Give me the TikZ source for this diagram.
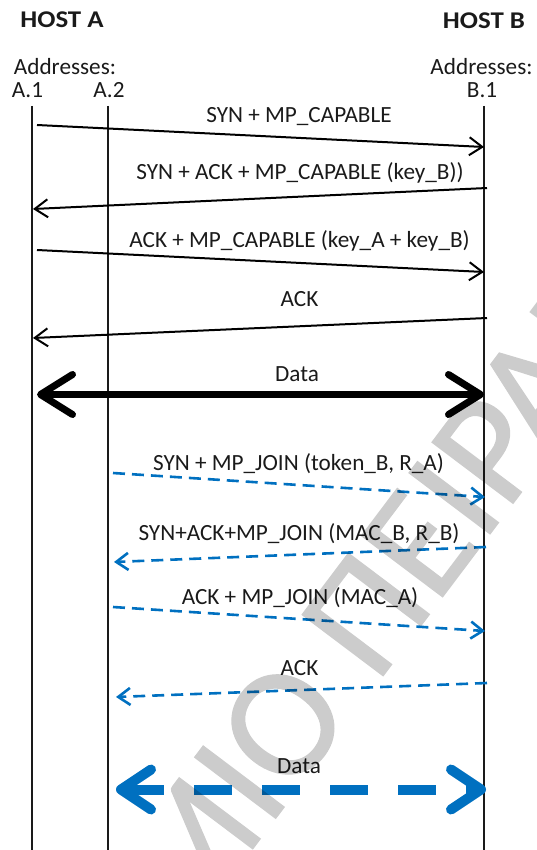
\documentclass[tikz,border=0pt]{standalone}
\usepackage{fontspec}
\usepackage{graphicx}
\setmainfont{Carlito}
\newfontfamily\wmfont[FakeBold=0.8]{Carlito}
\usetikzlibrary{arrows.meta}
\definecolor{linkblue}{HTML}{0070C0}
\definecolor{ink}{HTML}{1A1A1A}
% host headings are set slightly wide
\newcommand\wide[1]{\scalebox{1.12}[1]{#1}}
\tikzset{
  lbl/.style={font=\fontsize{23.2}{27}\selectfont, text=ink, inner sep=0pt, anchor=base},
  hostlbl/.style={font=\bfseries\fontsize{24}{28}\selectfont, text=ink, inner sep=0pt, anchor=base},
  lifeline/.style={line width=1.6pt, draw=ink},
  msg/.style={line width=2pt, draw=black, -{Straight Barb[length=13pt,width=18pt]}},
  joinmsg/.style={line width=2.6pt, draw=linkblue, dash pattern=on 12pt off 7pt,
    -{Straight Barb[length=12pt,width=17pt]}},
  datamsg/.style={line width=7pt, draw=black,
    {Straight Barb[length=32pt,width=40pt,round]}-{Straight Barb[length=32pt,width=40pt,round]}},
  joindata/.style={line width=10pt, draw=linkblue, dash pattern=on 38pt off 30pt,
    {Straight Barb[length=30pt,width=40pt,round]}-{Straight Barb[length=30pt,width=40pt,round]}},
  wmark/.style={font=\wmfont\fontsize{158}{160}\selectfont, text=black,
    inner sep=0pt, rotate=53},
}
\begin{document}
\begin{tikzpicture}[x=1pt,y=1pt]
\useasboundingbox (0,0) rectangle (537,-850);

% host headers and addresses
\node[hostlbl] (hostA) at (62,-28) {\wide{HOST A}};
\node[hostlbl] (hostB) at (484,-29) {\wide{HOST B}};
\node[lbl] (addrA) at (65,-75) {Addresses:};
\node[lbl] (addrB) at (481.5,-75) {Addresses:};
\node[lbl] (a1) at (27.5,-98) {A.1};
\node[lbl] (a2) at (109,-98) {A.2};
\node[lbl] (b1) at (482,-98) {B.1};

% lifelines
\coordinate (a1top) at (32,-106);  \coordinate (a1bot) at (32,-852);
\coordinate (a2top) at (108,-106); \coordinate (a2bot) at (108,-852);
\coordinate (b1top) at (484,-106); \coordinate (b1bot) at (484,-852);
\draw[lifeline] (a1top) -- (a1bot);
\draw[lifeline] (a2top) -- (a2bot);
\draw[lifeline] (b1top) -- (b1bot);

% MP_CAPABLE handshake on the first subflow
\coordinate (m1s) at (37,-125);  \coordinate (m1e) at (484,-147);
\coordinate (m2s) at (487,-188); \coordinate (m2e) at (33,-209);
\coordinate (m3s) at (37,-250);  \coordinate (m3e) at (484,-272);
\coordinate (m4s) at (487,-318); \coordinate (m4e) at (33,-338);
\draw[msg] (m1s) -- (m1e);
\draw[msg] (m2s) -- (m2e);
\draw[msg] (m3s) -- (m3e);
\draw[msg] (m4s) -- (m4e);
\node[lbl] (t1) at (299,-123) {SYN + MP\_CAPABLE};
\node[lbl] (t2) at (300,-180) {SYN + ACK + MP\_CAPABLE (key\_B))};
\node[lbl] (t3) at (299.5,-247) {ACK + MP\_CAPABLE (key\_A + key\_B)};
\node[lbl] (t4) at (299.5,-306) {ACK};

% data on the first subflow
\coordinate (d1s) at (37,-394.5); \coordinate (d1e) at (484,-394.5);
\draw[datamsg] (d1s) -- (d1e);
\node[lbl] (t5) at (297,-381) {Data};

% MP_JOIN handshake on the second subflow
\coordinate (j1s) at (113,-473);  \coordinate (j1e) at (485,-497);
\coordinate (j2s) at (486,-547);  \coordinate (j2e) at (114,-562);
\coordinate (j3s) at (113,-607);  \coordinate (j3e) at (485,-631);
\coordinate (j4s) at (487,-683);  \coordinate (j4e) at (116,-697);
\draw[joinmsg] (j1s) -- (j1e);
\draw[joinmsg] (j2s) -- (j2e);
\draw[joinmsg] (j3s) -- (j3e);
\draw[joinmsg] (j4s) -- (j4e);
\node[lbl] (t6) at (298.5,-470) {SYN + MP\_JOIN (token\_B, R\_A)};
\node[lbl] (t7) at (299,-540) {SYN+ACK+MP\_JOIN (MAC\_B, R\_B)};
\node[lbl] (t8) at (300,-604) {ACK + MP\_JOIN (MAC\_A)};
\node[lbl] (t9) at (299.5,-675) {ACK};

% data on the second subflow
\coordinate (d2s) at (116,-789.5); \coordinate (d2e) at (486,-789.5);
\draw[joindata] (d2s) -- (d2e);
\node[lbl] (t10) at (299,-773) {Data};

% faint rotated watermark, flattened before it is made translucent
\begin{scope}[transparency group, opacity=0.2]
\clip (0,0) rectangle (537,-850);
\coordinate (wmx) at (355,-713);
\node[wmark, anchor=base east] (wm1) at (wmx) {ΠΑΝΕΠΙΣΤΗΜΙΟ};
\node[wmark, anchor=base west] (wm2) at (wmx) {\ ΠΕΙΡΑΙΩΣ};
\end{scope}
\end{tikzpicture}
\end{document}
